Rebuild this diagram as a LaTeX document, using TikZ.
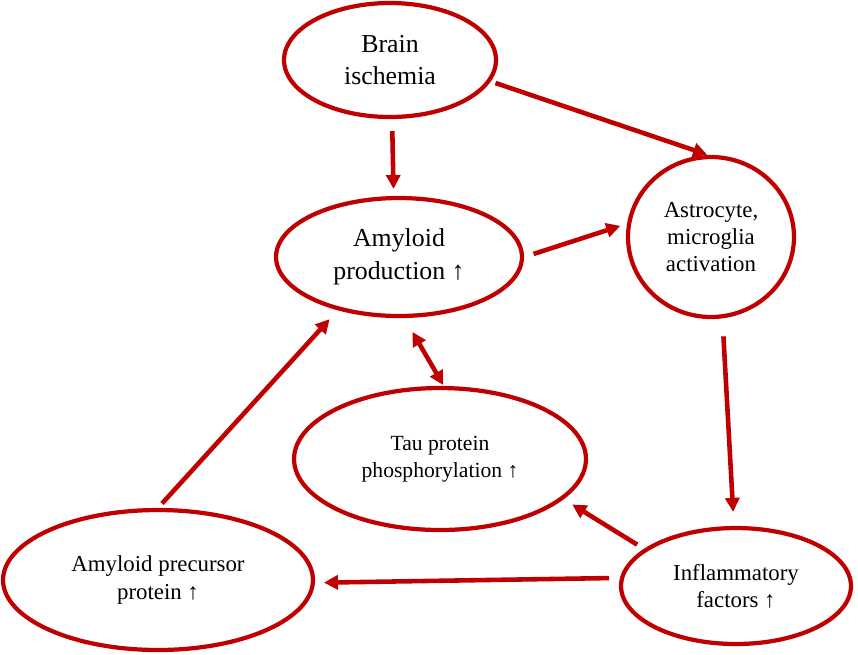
\documentclass[tikz,border=0pt]{standalone}
\usepackage{fontspec}
\setmainfont{Liberation Serif}
\usetikzlibrary{shapes.geometric,arrows.meta}
\definecolor{dred}{RGB}{192,0,0}
\begin{document}
\begin{tikzpicture}[x=0.02cm,y=-0.02cm,
  ell/.style={ellipse, draw=dred, line width=2.4pt, inner sep=0pt, align=center},
  arr/.style={draw=dred, line width=2.6pt, -{Triangle[length=8pt,width=8pt]}},
  darr/.style={draw=dred, line width=2.6pt, {Triangle[length=8pt,width=8pt]}-{Triangle[length=8pt,width=8pt]}},
  big/.style={font=\fontsize{14.7}{18.5}\selectfont},
  small/.style={font=\fontsize{13}{15.5}\selectfont},
  tiny/.style={font=\fontsize{12.3}{15.5}\selectfont},
]
\useasboundingbox (0,0) rectangle (858,654);
\node[ell, big, minimum width=4.24cm, minimum height=2.28cm] (brain) at (390,60) {Brain\\ischemia};
\node[ell, big, minimum width=4.92cm, minimum height=2.36cm] (amyloid) at (399,257) {Amyloid\\production ↑};
\node[ell, small, minimum width=3.32cm, minimum height=3.2cm] (astro) at (711,237) {Astrocyte,\\microglia\\activation};
\node[ell, tiny, minimum width=5.84cm, minimum height=2.84cm] (tau) at (440,459) {Tau protein\\phosphorylation ↑};
\node[ell, small, minimum width=6.2cm, minimum height=2.8cm] (prec) at (158,580) {Amyloid precursor\\protein ↑};
\node[ell, small, minimum width=4.6cm, minimum height=2.32cm] (infl) at (736,586) {Inflammatory\\factors ↑};

\draw[arr, shorten <=0.1cm, shorten >=0.02cm] (brain.-12) -- (astro.92);
\draw[arr, shorten <=0.24cm, shorten >=0.14cm] (brain.272) -- (amyloid.95);
\draw[arr, shorten <=0.2cm, shorten >=0.14cm] (amyloid.east) -- (astro.171);
\draw[arr, shorten <=0.36cm, shorten >=0.28cm] (astro.-82) -- (infl.92);
\draw[darr, shorten <=0.32cm, shorten >=0.02cm] (amyloid.-85) -- (tau.87);
\draw[arr, shorten <=0.16cm, shorten >=0.2cm] (infl.158) -- (tau.-18);
\draw[arr, shorten <=0.22cm, shorten >=0.18cm] (infl.176) -- (prec.-1.5);
\draw[arr, shorten <=0.12cm, shorten >=0.24cm] (prec.90) -- (amyloid.221);
\end{tikzpicture}
\end{document}
